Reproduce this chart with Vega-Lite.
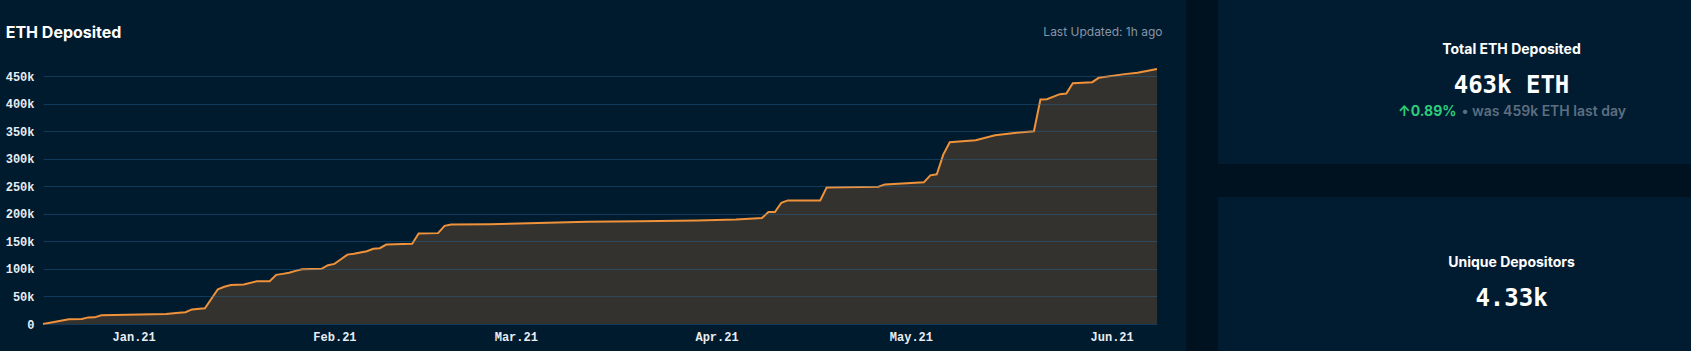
{
  "$schema": "https://vega.github.io/schema/vega-lite/v6.json",
  "background": "#001a2e",
  "padding": {"left": 5, "top": 0, "right": 0, "bottom": 0},
  "spacing": 0,
  "config": {"view": {"stroke": null}, "font": "Inter"},
  "hconcat": [
    {
      "spacing": 0,
      "vconcat": [
        {
          "width": 1143,
          "height": 24,
          "view": {"fill": "#001a2e"},
          "data": {"values": [{}]},
          "mark": "text",
          "encoding": {"text": {"value": ""}}
        },
        {
          "width": 1114,
          "height": 255,
          "data": {
            "values": [
              {"date": "2020-12-18", "eth": 0},
              {"date": "2020-12-22", "eth": 8500},
              {"date": "2020-12-24", "eth": 9100},
              {"date": "2020-12-25", "eth": 12000},
              {"date": "2020-12-26", "eth": 12100},
              {"date": "2020-12-27", "eth": 15800},
              {"date": "2020-12-31", "eth": 17000},
              {"date": "2021-01-06", "eth": 18200},
              {"date": "2021-01-08", "eth": 20500},
              {"date": "2021-01-09", "eth": 21500},
              {"date": "2021-01-10", "eth": 26500},
              {"date": "2021-01-12", "eth": 28500},
              {"date": "2021-01-14", "eth": 63000},
              {"date": "2021-01-15", "eth": 67500},
              {"date": "2021-01-16", "eth": 70800},
              {"date": "2021-01-18", "eth": 71600},
              {"date": "2021-01-20", "eth": 77600},
              {"date": "2021-01-22", "eth": 77800},
              {"date": "2021-01-23", "eth": 89200},
              {"date": "2021-01-24", "eth": 91000},
              {"date": "2021-01-25", "eth": 93000},
              {"date": "2021-01-26", "eth": 96400},
              {"date": "2021-01-27", "eth": 99500},
              {"date": "2021-01-30", "eth": 100100},
              {"date": "2021-01-31", "eth": 106700},
              {"date": "2021-02-01", "eth": 109200},
              {"date": "2021-02-02", "eth": 117500},
              {"date": "2021-02-03", "eth": 126000},
              {"date": "2021-02-04", "eth": 127400},
              {"date": "2021-02-06", "eth": 132200},
              {"date": "2021-02-07", "eth": 136500},
              {"date": "2021-02-08", "eth": 137700},
              {"date": "2021-02-09", "eth": 144300},
              {"date": "2021-02-13", "eth": 145600},
              {"date": "2021-02-14", "eth": 164400},
              {"date": "2021-02-17", "eth": 165000},
              {"date": "2021-02-18", "eth": 178300},
              {"date": "2021-02-19", "eth": 180700},
              {"date": "2021-02-25", "eth": 181300},
              {"date": "2021-03-03", "eth": 183000},
              {"date": "2021-03-12", "eth": 185600},
              {"date": "2021-03-20", "eth": 186500},
              {"date": "2021-03-29", "eth": 188000},
              {"date": "2021-04-04", "eth": 189800},
              {"date": "2021-04-08", "eth": 192300},
              {"date": "2021-04-09", "eth": 203200},
              {"date": "2021-04-10", "eth": 203200},
              {"date": "2021-04-11", "eth": 220200},
              {"date": "2021-04-12", "eth": 224400},
              {"date": "2021-04-17", "eth": 224400},
              {"date": "2021-04-18", "eth": 248000},
              {"date": "2021-04-26", "eth": 249300},
              {"date": "2021-04-27", "eth": 253500},
              {"date": "2021-05-03", "eth": 257200},
              {"date": "2021-05-04", "eth": 269900},
              {"date": "2021-05-05", "eth": 271700},
              {"date": "2021-05-06", "eth": 307500},
              {"date": "2021-05-07", "eth": 330000},
              {"date": "2021-05-11", "eth": 333600},
              {"date": "2021-05-14", "eth": 342700},
              {"date": "2021-05-17", "eth": 347000},
              {"date": "2021-05-20", "eth": 350000},
              {"date": "2021-05-21", "eth": 407600},
              {"date": "2021-05-22", "eth": 408200},
              {"date": "2021-05-24", "eth": 417300},
              {"date": "2021-05-25", "eth": 418500},
              {"date": "2021-05-26", "eth": 437300},
              {"date": "2021-05-29", "eth": 439100},
              {"date": "2021-05-30", "eth": 447000},
              {"date": "2021-06-03", "eth": 453700},
              {"date": "2021-06-05", "eth": 456100},
              {"date": "2021-06-08", "eth": 463000}
            ]
          },
          "layer": [
            {
              "mark": {"type": "area", "color": "#33322f", "opacity": 1},
              "encoding": {
                "x": {
                  "field": "date",
                  "type": "temporal",
                  "scale": {"type": "utc", "nice": false},
                  "axis": {
                    "format": "%b.%y",
                    "tickCount": {"interval": "month", "step": 1},
                    "grid": false,
                    "ticks": false,
                    "tickSize": 0,
                    "domain": false,
                    "labelPadding": 7,
                    "labelFlush": false,
                    "labelFont": "Liberation Mono",
                    "labelFontSize": 12,
                    "labelFontWeight": "bold",
                    "labelColor": "#e8edf2",
                    "title": "Last Updated: 1h ago",
                    "titleFont": "Inter",
                    "titleFontSize": 12,
                    "titleFontWeight": "normal",
                    "titleColor": "#8796a8",
                    "titleAlign": "right",
                    "titleBaseline": "alphabetic",
                    "titleX": 1119,
                    "titleY": -289
                  }
                },
                "y": {
                  "field": "eth",
                  "type": "quantitative",
                  "scale": {"domain": [0, 463000], "nice": false},
                  "axis": {
                    "tickCount": 10,
                    "format": "~s",
                    "labelExpr": "datum.value === 0 ? '0' : datum.label",
                    "grid": true,
                    "gridColor": "#2a6a9a",
                    "gridOpacity": 0.4,
                    "gridWidth": 1,
                    "ticks": false,
                    "tickSize": 0,
                    "domain": false,
                    "labelPadding": 9,
                    "labelFont": "Liberation Mono",
                    "labelFontSize": 12,
                    "labelFontWeight": "bold",
                    "labelColor": "#e8edf2",
                    "title": "ETH Deposited",
                    "titleFont": "Inter",
                    "titleFontSize": 16,
                    "titleFontWeight": "bold",
                    "titleColor": "#ffffff",
                    "titleAngle": 0,
                    "titleAlign": "left",
                    "titleBaseline": "alphabetic",
                    "titleX": -37.8,
                    "titleY": -31.2,
                    "zindex": 1
                  }
                }
              }
            },
            {
              "mark": {"type": "line", "color": "#f0923a", "strokeWidth": 2},
              "encoding": {
                "x": {"field": "date", "type": "temporal"},
                "y": {"field": "eth", "type": "quantitative"}
              }
            }
          ]
        }
      ]
    },
    {
      "width": 32,
      "height": 351,
      "view": {"fill": "#00111f"},
      "data": {"values": [{}]},
      "mark": "text",
      "encoding": {"text": {"value": ""}}
    },
    {
      "spacing": 0,
      "vconcat": [
        {
          "width": 473,
          "height": 164,
          "view": {"fill": "#011c31"},
          "data": {"values": [{"label": "Total ETH Deposited", "value": "463k ETH", "change": "↑0.89%", "note": "• was 459k ETH last day"}]},
          "layer": [
            {
              "mark": {"type": "text", "font": "Inter", "fontSize": 14, "fontWeight": "bold", "color": "#ffffff", "baseline": "alphabetic", "dx": 57, "dy": -28},
              "encoding": {"text": {"field": "label"}}
            },
            {
              "mark": {"type": "text", "font": "DejaVu Sans Mono", "fontSize": 24, "fontWeight": "bold", "color": "#ffffff", "baseline": "alphabetic", "dx": 57, "dy": 11},
              "encoding": {"text": {"field": "value"}}
            },
            {
              "mark": {"type": "text", "font": "Inter", "fontSize": 14, "fontWeight": "bold", "color": "#2ecb7b", "baseline": "alphabetic", "align": "right", "dx": 2, "dy": 34},
              "encoding": {"text": {"field": "change"}}
            },
            {
              "mark": {"type": "text", "font": "Inter", "fontSize": 14, "fontWeight": 600, "color": "#5d6e80", "baseline": "alphabetic", "align": "left", "dx": 7, "dy": 34},
              "encoding": {"text": {"field": "note"}}
            }
          ]
        },
        {
          "width": 473,
          "height": 33,
          "view": {"fill": "#00111f"},
          "data": {"values": [{}]},
          "mark": "text",
          "encoding": {"text": {"value": ""}}
        },
        {
          "width": 473,
          "height": 154,
          "view": {"fill": "#011c31"},
          "data": {"values": [{"label": "Unique Depositors", "value": "4.33k"}]},
          "layer": [
            {
              "mark": {"type": "text", "font": "Inter", "fontSize": 14, "fontWeight": "bold", "color": "#ffffff", "baseline": "alphabetic", "dx": 57, "dy": -7},
              "encoding": {"text": {"field": "label"}}
            },
            {
              "mark": {"type": "text", "font": "DejaVu Sans Mono", "fontSize": 24, "fontWeight": "bold", "color": "#ffffff", "baseline": "alphabetic", "dx": 57, "dy": 32},
              "encoding": {"text": {"field": "value"}}
            }
          ]
        }
      ]
    }
  ]
}
